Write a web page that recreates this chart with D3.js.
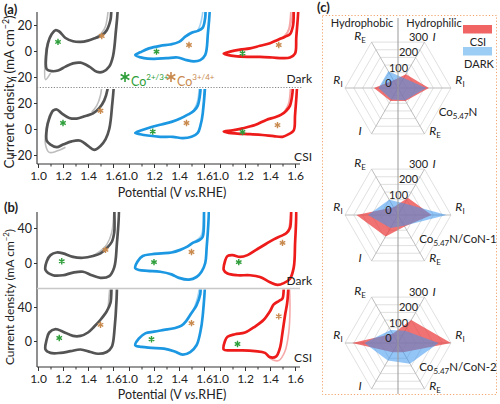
<!DOCTYPE html>
<html><head><meta charset="utf-8">
<script src="https://cdn.jsdelivr.net/npm/d3@7"></script>
<style>
body{margin:0;background:#fff;}
svg{display:block;font-family:Lato,"Open Sans",sans-serif;}
</style></head><body>
<svg id="c" width="500" height="404"></svg>
<script>
// ---------------- DATA ----------------
const potentialTicks = [1.0, 1.2, 1.4, 1.6];
const potentialMinor = [1.1, 1.3, 1.5];
const aCurrentTicks = [20, 0, -20];
const bCurrentTicks = [40, 0];
const conditionLabels = ["Dark", "CSI"];
const materials = ["Co5.47N", "Co5.47N/CoN-1", "Co5.47N/CoN-2"];

// panel (a), Dark: [potential V, current mA cm-2]
const aDarkGrey = [[1.07,-14],[1.065,-4],[1.08,6],[1.11,13],[1.14,16],[1.17,15],[1.22,10],[1.28,7.5],[1.34,7],[1.40,8],[1.46,10],[1.51,12],[1.55,16],[1.58,24],[1.60,40],[1.63,40],[1.62,12],[1.60,-4],[1.57,-12],[1.52,-16],[1.47,-16],[1.41,-12],[1.34,-9],[1.28,-9.5],[1.22,-12],[1.16,-15],[1.11,-15.5]];
const aDarkGreyLight = [[[1.10,-17],[1.06,-22],[1.055,-10],[1.07,4],[1.10,12],[1.13,15]],[[1.47,11],[1.51,14],[1.54,19],[1.57,40]]];
const aDarkBlue = [[1.05,-3],[1.09,-1],[1.16,2],[1.25,4],[1.33,5],[1.40,7],[1.45,11],[1.50,14],[1.55,15.5],[1.59,18],[1.61,26],[1.62,40],[1.64,40],[1.63,12],[1.61,-3],[1.57,-7],[1.52,-8],[1.46,-7],[1.39,-5],[1.30,-5.5],[1.20,-6],[1.12,-5.5]];
const aDarkBlueLight = [[[1.46,11],[1.51,14],[1.55,16],[1.58,24],[1.60,40]]];
const aDarkRed = [[1.03,-2],[1.08,-0.5],[1.16,1],[1.24,2],[1.32,4],[1.40,6],[1.46,8.5],[1.52,11],[1.56,13],[1.585,20],[1.60,40],[1.62,40],[1.61,10],[1.60,-2],[1.56,-5],[1.50,-5.5],[1.42,-5],[1.32,-4.5],[1.22,-4.5],[1.12,-4],[1.06,-3]];
const aDarkRedLight = [[[1.48,9],[1.52,12],[1.55,17],[1.57,40]],[[1.50,10],[1.54,14],[1.57,22],[1.585,40]]];
const aDarkGreenStars = [[1.16,7],[1.22,-0.5],[1.18,-1.7]];
const aDarkBrownStars = [[1.51,11.5],[1.48,4.6],[1.47,4.6]];

// panel (a), CSI
const aCsiGrey = [[1.07,-9],[1.07,0],[1.09,8],[1.12,14],[1.15,15],[1.19,12],[1.25,8.5],[1.31,8],[1.38,10],[1.44,12],[1.49,16],[1.53,22],[1.555,30],[1.57,45],[1.60,45],[1.59,15],[1.57,0],[1.54,-8],[1.50,-13],[1.45,-16],[1.40,-13],[1.34,-9],[1.27,-9.5],[1.20,-12],[1.15,-14],[1.10,-12]];
const aCsiGreyLight = [[[1.22,-14],[1.15,-17],[1.09,-18],[1.06,-12],[1.065,0],[1.09,10],[1.12,15]],[[1.43,13],[1.47,18],[1.50,26],[1.52,45]]];
const aCsiBlue = [[1.05,-3],[1.10,-1],[1.18,1.5],[1.26,3.5],[1.34,5.5],[1.41,8],[1.47,11],[1.52,14],[1.55,18],[1.57,28],[1.58,45],[1.60,45],[1.59,12],[1.57,2],[1.55,-3],[1.50,-6],[1.43,-7],[1.35,-6],[1.25,-6],[1.15,-5],[1.09,-4]];
const aCsiBlueLight = [[[1.48,11],[1.52,15],[1.55,22],[1.565,45]]];
const aCsiRed = [[1.03,-2],[1.10,-1],[1.18,0.5],[1.28,3],[1.37,7],[1.44,9],[1.49,11],[1.53,14],[1.56,18],[1.58,28],[1.59,45],[1.61,45],[1.60,10],[1.59,-1],[1.55,-4],[1.50,-6],[1.43,-5.5],[1.34,-4.6],[1.24,-4],[1.14,-3.5],[1.07,-3]];
const aCsiRedLight = [[[1.52,14],[1.55,20],[1.57,45]]];
const aCsiGreenStars = [[1.20,4.6],[1.19,-2],[1.18,-2.3]];
const aCsiBrownStars = [[1.50,14],[1.46,4.6],[1.46,3]];

// panel (b), Dark
const bDarkGrey = [[1.06,-8],[1.07,2],[1.10,9],[1.15,12],[1.20,11],[1.28,7],[1.36,6],[1.44,8],[1.50,11],[1.55,17],[1.59,24],[1.61,35],[1.62,70],[1.64,70],[1.63,20],[1.61,-5],[1.57,-15],[1.50,-17],[1.43,-14],[1.36,-10],[1.28,-11],[1.20,-14],[1.12,-14]];
const bDarkGreyLight = [[[1.45,9],[1.51,15],[1.55,21],[1.59,35],[1.61,70]]];
const bDarkBlue = [[1.05,-6],[1.07,2],[1.11,8],[1.18,10],[1.26,11],[1.34,12],[1.41,15],[1.47,19],[1.51,23],[1.56,26],[1.59,30],[1.61,70],[1.63,70],[1.62,15],[1.61,0],[1.58,-10],[1.54,-16],[1.48,-19],[1.40,-17],[1.34,-13],[1.25,-10],[1.15,-9],[1.08,-8]];
const bDarkBlueLight = [[[1.50,23],[1.55,27],[1.58,32],[1.60,70]]];
const bDarkRed = [[1.03,-8],[1.04,2],[1.06,8],[1.10,9],[1.16,7],[1.22,9],[1.30,16],[1.37,22],[1.43,27],[1.49,31],[1.53,34],[1.56,40],[1.58,70],[1.60,70],[1.60,20],[1.59,-5],[1.56,-18],[1.51,-23],[1.46,-25],[1.40,-22],[1.32,-16],[1.24,-14],[1.14,-14],[1.06,-12]];
const bDarkRedLight = [[[1.50,32],[1.54,36],[1.57,70]]];
const bDarkGreenStars = [[1.19,2],[1.20,1],[1.15,1]];
const bDarkBrownStars = [[1.54,15],[1.50,12.6],[1.50,23]];

// panel (b), CSI
const bCsiGrey = [[1.06,-10],[1.07,2],[1.09,10],[1.14,14],[1.20,11],[1.28,6],[1.34,6],[1.40,10],[1.45,17],[1.50,25],[1.55,35],[1.58,45],[1.60,80],[1.62,80],[1.61,10],[1.59,-7],[1.55,-13],[1.48,-15],[1.42,-13],[1.34,-10],[1.26,-12],[1.18,-14],[1.10,-14]];
const bCsiGreyLight = [[[1.56,38],[1.585,80]]];
const bCsiBlue = [[1.05,-5],[1.08,3],[1.13,9],[1.20,11],[1.28,13],[1.36,15],[1.42,18],[1.46,24],[1.50,33],[1.54,42],[1.57,55],[1.58,80],[1.60,80],[1.59,30],[1.57,10],[1.54,-5],[1.49,-13],[1.43,-16],[1.36,-12],[1.28,-9],[1.18,-8],[1.10,-7]];
const bCsiBlueLight = [[[1.52,38],[1.555,55],[1.57,80]]];
const bCsiRed = [[1.03,-10],[1.04,0],[1.06,5],[1.12,8],[1.20,10],[1.28,17],[1.35,25],[1.40,35],[1.43,43],[1.47,47],[1.50,50],[1.52,80],[1.54,80],[1.54,48],[1.52,30],[1.50,10],[1.48,-8],[1.45,-18],[1.40,-19],[1.36,-14],[1.28,-12],[1.18,-11],[1.08,-11]];
const bCsiRedLight = [[[1.55,80],[1.56,40],[1.55,10],[1.52,-12],[1.47,-23],[1.42,-22],[1.37,-16]]];
const bCsiGreenStars = [[1.17,3.5],[1.18,2],[1.14,-3.5]];
const bCsiBrownStars = [[1.50,19],[1.50,21],[1.47,29]];

// panel (c) radar: axes order R_I(right), I, R_E, R_I(left), I, R_E
const radarAxisNames = [["R","I"],["I",""],["R","E"],["R","I"],["I",""],["R","E"]];
const radarTicks = [0, 100, 200, 300];
const csiCo547N = [175, 90, 50, 136, 85, 85];
const darkCo547N = [160, 65, 110, 110, 75, 80];
const csiCoN1 = [190, 112, 50, 235, 140, 75];
const darkCoN1 = [275, 75, 100, 170, 85, 70];
const csiCoN2 = [300, 150, 60, 260, 60, 60];
const darkCoN2 = [230, 80, 85, 190, 115, 135];

// ---------------- DRAW ----------------
const svg = d3.select("#c");
const mainColors = ["#545454", "#1c97e2", "#ee1b1b"];
const lightColors = ["#bdbdbd", "#a3d3f3", "#f6a8a8"];
const axisColor = "#333";
const groupX0 = [38, 129, 220];
const xScales = groupX0.map(x0 => d3.scaleLinear().domain([1.0, 1.6]).range([x0, x0 + 75]));
const axisLeftX = 37, axisRightX = 300;

const defs = svg.append("defs");
let clipId = 0;

function subplot(cfg) {
  const id = "clip" + (clipId++);
  defs.append("clipPath").attr("id", id).append("rect")
    .attr("x", axisLeftX + 1).attr("y", cfg.top).attr("width", axisRightX - axisLeftX + 10).attr("height", cfg.bottom - cfg.top);
  const g = svg.append("g").attr("clip-path", `url(#${id})`);
  const y = cfg.y;
  cfg.curves.forEach((pts, i) => {
    const xs = xScales[i];
    const open = d3.line().x(d => xs(d[0])).y(d => y(d[1])).curve(d3.curveCatmullRom.alpha(0.5));
    cfg.light[i].forEach(seg => {
      g.append("path").attr("d", open(seg)).attr("fill", "none")
        .attr("stroke", lightColors[i]).attr("stroke-width", 1.6);
    });
    const closed = d3.line().x(d => xs(d[0])).y(d => y(d[1])).curve(d3.curveCatmullRomClosed.alpha(0.5));
    g.append("path").attr("d", closed(pts)).attr("fill", "none")
      .attr("stroke", mainColors[i]).attr("stroke-width", 2.7).attr("stroke-linejoin", "round");
  });
  const star = d3.symbol().type(d3.symbolAsterisk).size(28);
  [[cfg.green, "#2e9e3a"], [cfg.brown, "#c98a4e"]].forEach(([arr, col]) => {
    arr.forEach((p, i) => {
      svg.append("path").attr("d", star())
        .attr("transform", `translate(${xScales[i](p[0])},${y(p[1])})`)
        .attr("fill", "none").attr("stroke", col).attr("stroke-width", 1.4);
    });
  });
  const ya = svg.append("g").attr("transform", `translate(${axisLeftX},0)`)
    .call(d3.axisLeft(y).tickValues(cfg.yTicks).tickSize(3).tickPadding(2).tickFormat(d3.format("d")));
  ya.select(".domain").remove();
  ya.selectAll("text").attr("font-size", 12.5).attr("font-family", "Lato, sans-serif").attr("fill", "#222");
  ya.selectAll("line").attr("stroke", axisColor);
  svg.append("text").attr("x", 312).attr("y", cfg.labelY).attr("text-anchor", "end")
    .attr("font-size", 12).attr("fill", "#222").text(cfg.label);
}

function panelFrame(top, bottom, titleY, titleSize, titleCenter) {
  svg.append("line").attr("x1", axisLeftX).attr("x2", axisLeftX).attr("y1", top).attr("y2", bottom)
    .attr("stroke", axisColor).attr("stroke-width", 1.1);
  svg.append("line").attr("x1", axisLeftX).attr("x2", axisRightX).attr("y1", bottom).attr("y2", bottom)
    .attr("stroke", axisColor).attr("stroke-width", 1.1);
  xScales.forEach(xs => {
    const ax = svg.append("g").attr("transform", `translate(0,${bottom})`)
      .call(d3.axisBottom(xs).tickValues(potentialTicks).tickSize(4).tickPadding(3).tickFormat(d3.format(".1f")));
    ax.select(".domain").remove();
    ax.selectAll("text").attr("font-size", 12).attr("font-family", "Lato, sans-serif").attr("fill", "#222");
    ax.selectAll("line").attr("stroke", axisColor);
    const mn = svg.append("g").attr("transform", `translate(0,${bottom})`)
      .call(d3.axisBottom(xs).tickValues(potentialMinor).tickSize(2.5).tickFormat(""));
    mn.select(".domain").remove();
    mn.selectAll("line").attr("stroke", axisColor);
  });
  const t = svg.append("text").attr("x", 172).attr("y", titleY).attr("text-anchor", "middle")
    .attr("font-size", 12.5).attr("fill", "#222");
  t.append("tspan").text("Potential (V ");
  t.append("tspan").attr("font-style", "italic").text("vs.");
  t.append("tspan").text("RHE)");
  const yt = svg.append("text").attr("transform", `translate(14,${titleCenter}) rotate(-90)`)
    .attr("text-anchor", "middle").attr("font-size", titleSize).attr("fill", "#222");
  yt.append("tspan").text("Current density (mA cm");
  yt.append("tspan").attr("dy", -titleSize * 0.4).attr("font-size", titleSize * 0.65).text("−2");
  yt.append("tspan").attr("dy", titleSize * 0.4).text(")");
}

// ---- panel (a)
panelFrame(12, 164, 197, 13.5, 92);
subplot({ top: 12, bottom: 87, y: d3.scaleLinear().domain([0, 20]).range([51, 25]), yTicks: aCurrentTicks,
  curves: [aDarkGrey, aDarkBlue, aDarkRed], light: [aDarkGreyLight, aDarkBlueLight, aDarkRedLight],
  green: aDarkGreenStars, brown: aDarkBrownStars, label: conditionLabels[0], labelY: 83 });
subplot({ top: 89, bottom: 163, y: d3.scaleLinear().domain([0, 20]).range([129, 103]), yTicks: aCurrentTicks,
  curves: [aCsiGrey, aCsiBlue, aCsiRed], light: [aCsiGreyLight, aCsiBlueLight, aCsiRedLight],
  green: aCsiGreenStars, brown: aCsiBrownStars, label: conditionLabels[1], labelY: 161 });
svg.append("line").attr("x1", axisLeftX).attr("x2", 302).attr("y1", 87.5).attr("y2", 87.5)
  .attr("stroke", "#888").attr("stroke-width", 1).attr("stroke-dasharray", "1.2,1.6");
svg.append("text").attr("x", 4).attr("y", 14).attr("font-size", 13).attr("font-weight", "bold").attr("fill", "#222").text("(a)");

const bigStar = d3.symbol().type(d3.symbolAsterisk).size(70);
svg.append("path").attr("d", bigStar()).attr("transform", "translate(125,77)").attr("fill", "none").attr("stroke", "#2e9e3a").attr("stroke-width", 1.6);
svg.append("path").attr("d", bigStar()).attr("transform", "translate(171,77)").attr("fill", "none").attr("stroke", "#c98a4e").attr("stroke-width", 1.6);
[[131, "#2e9e3a", "2+/3+"], [177, "#c98a4e", "3+/4+"]].forEach(([x, col, sup]) => {
  const t = svg.append("text").attr("x", x).attr("y", 86).attr("font-size", 12.5).attr("fill", col);
  t.append("tspan").text("Co");
  t.append("tspan").attr("dy", -6).attr("font-size", 8).text(sup);
});

// ---- panel (b)
panelFrame(212, 367, 399, 12, 297);
subplot({ top: 212, bottom: 287.5, y: d3.scaleLinear().domain([0, 40]).range([263, 228]), yTicks: bCurrentTicks,
  curves: [bDarkGrey, bDarkBlue, bDarkRed], light: [bDarkGreyLight, bDarkBlueLight, bDarkRedLight],
  green: bDarkGreenStars, brown: bDarkBrownStars, label: conditionLabels[0], labelY: 285 });
subplot({ top: 289.5, bottom: 366, y: d3.scaleLinear().domain([0, 40]).range([341, 307]), yTicks: bCurrentTicks,
  curves: [bCsiGrey, bCsiBlue, bCsiRed], light: [bCsiGreyLight, bCsiBlueLight, bCsiRedLight],
  green: bCsiGreenStars, brown: bCsiBrownStars, label: conditionLabels[1], labelY: 362 });
svg.append("line").attr("x1", axisLeftX).attr("x2", 300).attr("y1", 288.5).attr("y2", 288.5)
  .attr("stroke", "#c8c8c8").attr("stroke-width", 1.5);
svg.append("text").attr("x", 4).attr("y", 212).attr("font-size", 13).attr("font-weight", "bold").attr("fill", "#222").text("(b)");

// ---- panel (c)
svg.append("text").attr("x", 317).attr("y", 12).attr("font-size", 13).attr("font-weight", "bold").attr("fill", "#222").text("(c)");
svg.append("rect").attr("x", 322.5).attr("y", 15.5).attr("width", 174).attr("height", 379)
  .attr("fill", "none").attr("stroke", "#f2a36b").attr("stroke-width", 1).attr("stroke-dasharray", "1.2,2");

const cx = 398, R = 53;
const rScale = d3.scaleLinear().domain([0, 300]).range([0, R]);
const radarCentersY = [88, 215, 343];
const radarData = [[csiCo547N, darkCo547N], [csiCoN1, darkCoN1], [csiCoN2, darkCoN2]];
const ang = i => i * Math.PI / 3;
const pt = (cy, i, v) => [cx + rScale(v) * Math.cos(ang(i)), cy - rScale(v) * Math.sin(ang(i))];
const ringValues = d3.range(50, 301, 50);

radarCentersY.forEach((cy, k) => {
  const g = svg.append("g");
  ringValues.forEach(v => {
    g.append("polygon").attr("points", d3.range(6).map(i => pt(cy, i, v).join(",")).join(" "))
      .attr("fill", "none").attr("stroke", "#d8d8d8").attr("stroke-width", 0.8);
  });
  d3.range(6).forEach(i => {
    const p = pt(cy, i, 300);
    g.append("line").attr("x1", cx).attr("y1", cy).attr("x2", p[0]).attr("y2", p[1])
      .attr("stroke", "#b5b5b5").attr("stroke-width", 0.9);
  });
  const [csi, dark] = radarData[k];
  g.append("polygon").attr("points", csi.map((v, i) => pt(cy, i, v).join(",")).join(" "))
    .attr("fill", "rgb(235,60,60)").attr("fill-opacity", 0.72);
  g.append("polygon").attr("points", dark.map((v, i) => pt(cy, i, v).join(",")).join(" "))
    .attr("fill", "rgb(60,150,240)").attr("fill-opacity", 0.55);
  radarTicks.forEach(v => {
    const r = rScale(v);
    g.append("text").attr("x", cx - 9.5 + 0.566 * r).attr("y", cy - 4.5 - 0.877 * r).attr("dy", "0.35em")
      .attr("text-anchor", "middle").attr("font-size", 11).attr("fill", "#222").text(v);
  });
  const labelOff = [[62, -8], [36, -51], [-38, -52], [-60, -8], [-38, 43], [37, 43]];
  radarAxisNames.forEach((nm, i) => {
    const t = g.append("text").attr("x", cx + labelOff[i][0]).attr("y", cy + labelOff[i][1]).attr("dy", "0.35em")
      .attr("text-anchor", "middle").attr("font-size", 12).attr("fill", "#222");
    t.append("tspan").attr("font-style", "italic").text(nm[0]);
    if (nm[1]) t.append("tspan").attr("dy", 3).attr("font-size", 8).text(nm[1]);
  });
  const m = materials[k].split("5.47");
  const mt = g.append("text").attr("x", cx + 60).attr("y", cy + 24).attr("dy", "0.35em")
    .attr("text-anchor", "middle").attr("font-size", 11.5).attr("fill", "#222");
  mt.append("tspan").text(m[0]);
  mt.append("tspan").attr("dy", 3).attr("font-size", 8).text("5.47");
  mt.append("tspan").attr("dy", -3).text(m[1]);
});
svg.append("line").attr("x1", cx).attr("x2", cx).attr("y1", 18).attr("y2", 394)
  .attr("stroke", "#999").attr("stroke-width", 1);
svg.append("text").attr("x", 362).attr("y", 27).attr("text-anchor", "middle").attr("font-size", 11).attr("fill", "#222").text("Hydrophobic");
svg.append("text").attr("x", 434).attr("y", 27).attr("text-anchor", "middle").attr("font-size", 11).attr("fill", "#222").text("Hydrophilic");
svg.append("rect").attr("x", 463).attr("y", 25).attr("width", 29).attr("height", 8.5).attr("fill", "rgb(240,100,100)");
svg.append("text").attr("x", 478).attr("y", 46).attr("text-anchor", "middle").attr("font-size", 11).attr("fill", "#222").text("CSI");
svg.append("rect").attr("x", 463).attr("y", 47).attr("width", 29).attr("height", 8.5).attr("fill", "rgb(155,205,245)");
svg.append("text").attr("x", 479).attr("y", 68).attr("text-anchor", "middle").attr("font-size", 11).attr("fill", "#222").text("DARK");
</script></body></html>
